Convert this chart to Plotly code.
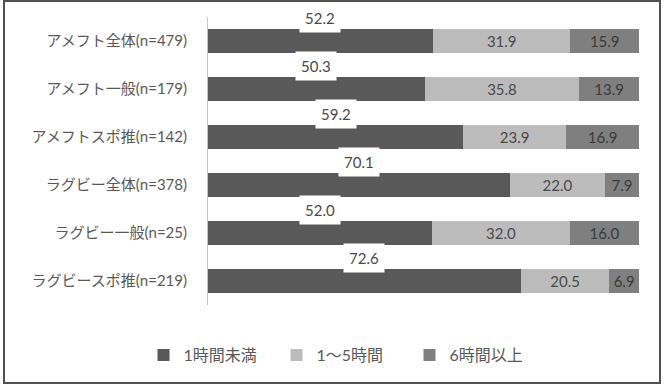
import plotly.graph_objects as go

categories = ["アメフト全体(n=479)", "アメフト一般(n=179)", "アメフトスポ推(n=142)",
              "ラグビー全体(n=378)", "ラグビー一般(n=25)", "ラグビースポ推(n=219)"]
series_names = ["1時間未満", "1～5時間", "6時間以上"]
under1 = [52.2, 50.3, 59.2, 70.1, 52.0, 72.6]
h1to5 = [31.9, 35.8, 23.9, 22.0, 32.0, 20.5]
over6 = [15.9, 13.9, 16.9, 7.9, 16.0, 6.9]
colors = ["#595959", "#bcbcbc", "#7f7f7f"]

W, H = 664, 390
L, R, T, B = 208, 25, 17, 85
FONT = "Lato, 'Noto Sans CJK JP', sans-serif"

fig = go.Figure()
fig.add_trace(go.Bar(y=categories, x=under1, name=series_names[0], orientation="h",
                     marker=dict(color=colors[0], line=dict(width=0))))
fig.add_trace(go.Bar(y=categories, x=h1to5, name=series_names[1], orientation="h",
                     marker=dict(color=colors[1], line=dict(width=0)),
                     text=[f"{v:.1f}" for v in h1to5], textposition="inside",
                     insidetextanchor="middle", textangle=0,
                     textfont=dict(color="#4a4a4a", size=15, family=FONT)))
fig.add_trace(go.Bar(y=categories, x=over6, name=series_names[2], orientation="h",
                     marker=dict(color=colors[2], line=dict(width=0)),
                     text=[f"{v:.1f}" for v in over6], textposition="inside",
                     insidetextanchor="middle", textangle=0,
                     textfont=dict(color="#3a3a3a", size=15, family=FONT)))

for c, v in zip(categories, under1):
    fig.add_annotation(x=v / 2, y=c, xref="x", yref="y", text=f"{v:.1f}",
                       showarrow=False, yshift=23, bgcolor="white", borderpad=5,
                       font=dict(color="#4a4a4a", size=15, family=FONT))

pw = W - L - R
ph = H - T - B
fig.add_shape(type="rect", xref="paper", yref="paper",
              x0=(4 - L) / pw, x1=(660 - L) / pw,
              y0=(H - B - 383) / ph, y1=(H - B - 1) / ph,
              line=dict(color="#505050", width=2), fillcolor="rgba(0,0,0,0)")

fig.update_layout(
    width=W, height=H, margin=dict(l=L, r=R, t=T, b=B),
    barmode="stack", bargap=0.5,
    paper_bgcolor="white", plot_bgcolor="white",
    font=dict(family=FONT, color="#595959", size=15),
    xaxis=dict(range=[0, 100], visible=False),
    yaxis=dict(range=[len(categories) - 0.5, -0.5], autorange=False,
               showline=True, linecolor="#c8c8c8", linewidth=1,
               ticks="", ticklabelstandoff=17, tickfont=dict(size=15, color="#595959")),
    legend=dict(orientation="h", x=(343 - L) / pw, xanchor="center",
                y=(H - B - 355) / ph, yanchor="middle", traceorder="normal",
                font=dict(size=16, color="#595959"), itemwidth=30,
                entrywidth=88, entrywidthmode="pixels"),
    showlegend=True,
)

fig.write_html("out.html")
